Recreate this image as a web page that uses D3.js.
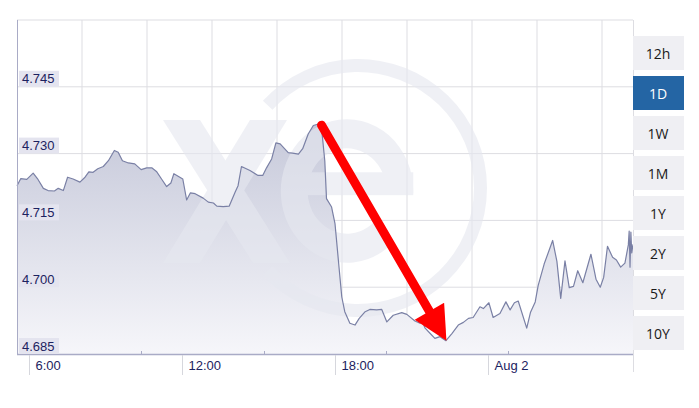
<!DOCTYPE html>
<html>
<head>
<meta charset="utf-8">
<script src="https://cdn.jsdelivr.net/npm/d3@7"></script>
<style>
  body { margin: 0; background: #fff; }
  svg { display: block; }
</style>
</head>
<body>
<svg width="699" height="408"></svg>
<script>
// minutes after midnight, Aug 1
const minutes = [
  332, 341, 355, 370, 380, 394, 405, 420, 429, 441, 451, 464, 480, 492, 501, 511, 522, 535, 547, 561,
  570, 580, 594, 609, 624, 637, 649, 660, 672, 684, 694, 701, 722, 731, 740, 751, 770, 782, 794, 802,
  817, 831, 845, 852, 860, 880, 899, 910, 919, 931, 941, 951, 970, 980, 994, 1004, 1017, 1029, 1039, 1045,
  1049, 1056, 1060, 1072, 1080, 1088, 1096, 1103, 1115, 1127, 1137, 1151, 1162, 1178, 1190, 1202, 1217, 1237, 1249, 1268,
  1280, 1286, 1292, 1304, 1315, 1327, 1341, 1355, 1370, 1382, 1394, 1405, 1421, 1429, 1442, 1452, 1468, 1482, 1492, 1502,
  1511, 1531, 1540, 1551, 1558, 1572, 1592, 1602, 1611, 1621, 1631, 1641, 1651, 1663, 1682, 1694, 1704, 1712, 1721, 1733,
  1742, 1752, 1762, 1770, 1772, 1774, 1776, 1778, 1781
];
const rates = [
  4.7228, 4.7244, 4.7242, 4.7256, 4.7244, 4.7222, 4.7217, 4.7216, 4.7222, 4.7217, 4.7247, 4.7243, 4.7236, 4.7247, 4.7259, 4.7258, 4.7266, 4.7271, 4.7284, 4.7307,
  4.7303, 4.7284, 4.7279, 4.7277, 4.7264, 4.7268, 4.7268, 4.7260, 4.7243, 4.7226, 4.7234, 4.7255, 4.7243, 4.7196, 4.7212, 4.7210, 4.7200, 4.7191, 4.7189, 4.7182,
  4.7181, 4.7182, 4.7213, 4.7228, 4.7271, 4.7262, 4.7251, 4.7251, 4.7268, 4.7288, 4.7324, 4.7322, 4.7302, 4.7301, 4.7299, 4.7311, 4.7344, 4.7363, 4.7366, 4.7365,
  4.7351, 4.7284, 4.7199, 4.7180, 4.7143, 4.7060, 4.6978, 4.6945, 4.6919, 4.6915, 4.6930, 4.6945, 4.6950, 4.6949, 4.6950, 4.6922, 4.6937, 4.6943, 4.6939, 4.6924,
  4.6919, 4.6922, 4.6908, 4.6896, 4.6885, 4.6889, 4.6880, 4.6896, 4.6915, 4.6921, 4.6930, 4.6932, 4.6956, 4.6952, 4.6965, 4.6932, 4.6941, 4.6967, 4.6949, 4.6965,
  4.6969, 4.6908, 4.6944, 4.6967, 4.7004, 4.7052, 4.7105, 4.7058, 4.6975, 4.7059, 4.6999, 4.7002, 4.7037, 4.7010, 4.7074, 4.7018, 4.7000, 4.7022, 4.7092, 4.7067,
  4.7061, 4.7045, 4.7054, 4.7095, 4.7126, 4.7045, 4.7124, 4.7077, 4.7096
];
const yTicks = [4.685, 4.700, 4.715, 4.730, 4.745];
const yTop = 4.760;
const minorTicks = [624, 912, 1200, 1488];
const ranges = ['12h', '1D', '1W', '1M', '1Y', '2Y', '5Y', '10Y'];
const activeRange = '1D';

const day0 = new Date(2023, 7, 1);
const toDate = m => new Date(day0.getTime() + m * 60000);
const data = minutes.map((m, i) => ({ date: toDate(m), rate: rates[i] }));

const svg = d3.select('svg');
const width = +svg.attr('width');
const margin = { left: 17, top: 20, right: 66, bottom: 54 };
const plotRight = width - margin.right;
const plotBottom = +svg.attr('height') - margin.bottom;

const x = d3.scaleTime()
  .domain([toDate(minutes[0]), toDate(minutes[minutes.length - 1])])
  .range([margin.left, plotRight]);
const y = d3.scaleLinear()
  .domain([yTicks[0], yTop])
  .range([plotBottom, margin.top]);

const navy = '#1c2260';
const gridColor = '#dddde2';

const grad = svg.append('defs').append('linearGradient')
  .attr('id', 'areaFill')
  .attr('gradientUnits', 'userSpaceOnUse')
  .attr('x1', 0).attr('x2', 0)
  .attr('y1', margin.top).attr('y2', plotBottom);
grad.append('stop').attr('offset', 0).attr('stop-color', '#b0b4cb');
grad.append('stop').attr('offset', 1).attr('stop-color', '#f6f6fa');

// grid
const grid = svg.append('g').attr('class', 'grid');
grid.selectAll('line.h')
  .data(yTicks.slice(1).concat(yTop))
  .enter()
  .append('line')
  .attr('class', 'h')
  .attr('x1', margin.left).attr('x2', plotRight)
  .attr('y1', d => y(d)).attr('y2', d => y(d))
  .attr('stroke', gridColor);
grid.selectAll('line.v')
  .data(d3.range(margin.left + 65, plotRight, 65))
  .enter()
  .append('line')
  .attr('class', 'v')
  .attr('x1', d => d).attr('x2', d => d)
  .attr('y1', margin.top).attr('y2', plotBottom)
  .attr('stroke', gridColor);
grid.append('line')
  .attr('x1', plotRight + 0.5).attr('x2', plotRight + 0.5)
  .attr('y1', margin.top).attr('y2', plotBottom + 18)
  .attr('stroke', gridColor);

// area
svg.append('path')
  .datum(data)
  .attr('fill', 'url(#areaFill)')
  .attr('d', d3.area()
    .x(d => x(d.date))
    .y0(plotBottom)
    .y1(d => y(d.rate)));

// xe watermark
const mark = svg.append('g')
  .attr('fill', '#e6e8f0')
  .attr('opacity', 0.62);
mark.append('path')
  .attr('transform', 'translate(358,188)')
  .attr('d', d3.arc()({
    innerRadius: 116, outerRadius: 129,
    startAngle: -47.5 * Math.PI / 180, endAngle: 227.5 * Math.PI / 180
  }));
mark.append('polygon').attr('points', '163,120 200,120 290,263 253,263');
mark.append('polygon').attr('points', '250,120 287,120 200,263 163,263');
const eGlyph = mark.append('g').attr('transform', 'translate(347,191) scale(0.96,1.04)');
eGlyph.append('path')
  .attr('d', d3.arc()({
    innerRadius: 41, outerRadius: 69,
    startAngle: 135 * Math.PI / 180, endAngle: 452 * Math.PI / 180
  }));
eGlyph.append('rect')
  .attr('x', -45).attr('y', -18)
  .attr('width', 114).attr('height', 22);

// line
svg.append('path')
  .datum(data)
  .attr('fill', 'none')
  .attr('stroke', '#7a80a5')
  .attr('stroke-width', 1.2)
  .attr('stroke-linejoin', 'round')
  .attr('d', d3.line()
    .x(d => x(d.date))
    .y(d => y(d.rate)));

// left border and x axis line
svg.append('line')
  .attr('x1', margin.left + 0.5).attr('x2', margin.left + 0.5)
  .attr('y1', margin.top).attr('y2', plotBottom)
  .attr('stroke', '#a9abc6');
svg.append('line')
  .attr('x1', margin.left).attr('x2', plotRight)
  .attr('y1', plotBottom + 0.5).attr('y2', plotBottom + 0.5)
  .attr('stroke', '#a9abc6')
  .attr('stroke-width', 1.5);

// y labels
const yLab = svg.append('g')
  .selectAll('g')
  .data(yTicks)
  .enter()
  .append('g')
  .attr('transform', d => `translate(19,${y(d)})`);
yLab.append('rect')
  .attr('x', 0).attr('y', -16)
  .attr('width', 40).attr('height', 16)
  .attr('fill', '#e4e4ef');
yLab.append('text')
  .attr('x', 3).attr('y', -3.5)
  .attr('fill', navy)
  .style('font', '13px "Liberation Sans", Arial, sans-serif')
  .text(d => d.toFixed(3));

// x ticks
const xTicks = x.ticks(d3.timeHour.every(6));
const fmt = d => d.getHours() === 0 ? d3.timeFormat('%b %-d')(d) : d3.timeFormat('%-H:%M')(d);
const xt = svg.append('g')
  .selectAll('g')
  .data(xTicks)
  .enter()
  .append('g')
  .attr('transform', d => `translate(${Math.round(x(d)) + 0.5},0)`);
xt.append('line')
  .attr('y1', plotBottom + 1).attr('y2', plotBottom + 21)
  .attr('stroke', '#d6d7dd');
xt.append('text')
  .attr('x', 6).attr('y', plotBottom + 16)
  .attr('fill', navy)
  .style('font', '13px "Liberation Sans", Arial, sans-serif')
  .text(fmt);

svg.append('g')
  .selectAll('line')
  .data(minorTicks)
  .enter()
  .append('line')
  .attr('x1', d => Math.round(x(toDate(d))) + 0.5)
  .attr('x2', d => Math.round(x(toDate(d))) + 0.5)
  .attr('y1', plotBottom - 3).attr('y2', plotBottom)
  .attr('stroke', '#a9abc6');

// red arrow from peak to trough
const peak = data[d3.maxIndex(rates)];
const trough = data[d3.minIndex(rates)];
const p0 = [x(peak.date) + 4, y(peak.rate) + 1];
const p1 = [x(trough.date) + 0.5, y(trough.rate)];
const len = Math.hypot(p1[0] - p0[0], p1[1] - p0[1]);
const ux = (p1[0] - p0[0]) / len, uy = (p1[1] - p0[1]) / len;
const headLen = 34, headHalf = 17;
const base = [p1[0] - ux * headLen, p1[1] - uy * headLen];
svg.append('line')
  .attr('x1', p0[0]).attr('y1', p0[1])
  .attr('x2', base[0] + ux * 2).attr('y2', base[1] + uy * 2)
  .attr('stroke', '#ff0000')
  .attr('stroke-width', 9)
  .attr('stroke-linecap', 'round');
svg.append('polygon')
  .attr('fill', '#ff0000')
  .attr('points', [
    p1,
    [base[0] + uy * headHalf, base[1] - ux * headHalf],
    [base[0] - uy * headHalf, base[1] + ux * headHalf]
  ].map(p => p.join(',')).join(' '));

// range buttons
const btn = svg.append('g')
  .selectAll('g')
  .data(ranges)
  .enter()
  .append('g')
  .attr('transform', (d, i) => `translate(${plotRight},${36 + i * 40})`);
btn.append('rect')
  .attr('width', 51).attr('height', 34)
  .attr('fill', d => d === activeRange ? '#2465a4' : '#efeff3');
btn.append('text')
  .attr('x', 25).attr('y', 17)
  .attr('text-anchor', 'middle')
  .attr('dominant-baseline', 'central')
  .attr('fill', d => d === activeRange ? '#fff' : '#1a1a1a')
  .style('font', '14px "Open Sans", sans-serif')
  .text(d => d);
</script>
</body>
</html>
